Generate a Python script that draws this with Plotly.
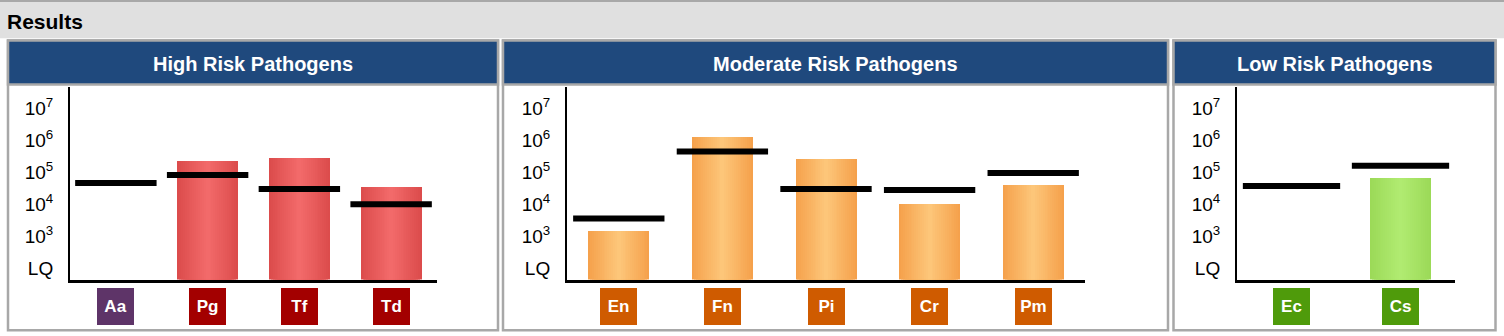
import plotly.graph_objects as go

# ---------------- data ----------------
high_cats = ["Aa", "Pg", "Tf", "Td"]
high_vals = [None, 2.25e5, 2.8e5, 3.5e4]
high_thresh = [4.6e4, 8.2e4, 3.0e4, 1.0e4]
high_label_colors = ["#5e3468", "#a30000", "#a30000", "#a30000"]

mod_cats = ["En", "Fn", "Pi", "Cr", "Pm"]
mod_vals = [1.5e3, 1.3e6, 2.6e5, 1.0e4, 4.0e4]
mod_thresh = [3.6e3, 4.5e5, 3.0e4, 2.8e4, 9.5e4]
mod_label_colors = ["#cf5b00"] * 5

low_cats = ["Ec", "Cs"]
low_vals = [None, 6.6e4]
low_thresh = [3.7e4, 1.6e5]
low_label_colors = ["#4f9b0b", "#4f9b0b"]

tick_vals = [1e2, 1e3, 1e4, 1e5, 1e6, 1e7]
tick_text = ["LQ", "10<sup>3</sup>", "10<sup>4</sup>", "10<sup>5</sup>", "10<sup>6</sup>", "10<sup>7</sup>"]

panel_titles = ["High Risk Pathogens", "Moderate Risk Pathogens", "Low Risk Pathogens"]

# ---------------- layout geometry (pixels) ----------------
W, H = 1504, 336
FONT = "Liberation Sans, Arial, sans-serif"


def X(px):
    return px / W


def Y(py):
    return 1 - py / H


PLOT_TOP, PLOT_BOTTOM = 87, 279.5
panels = [
    dict(cats=high_cats, vals=high_vals, thr=high_thresh, lab=high_label_colors,
         box=(8, 498), plot=(70, 437), edge="#db4b4b", center="#f36b6b", linelen=82),
    dict(cats=mod_cats, vals=mod_vals, thr=mod_thresh, lab=mod_label_colors,
         box=(503, 1168), plot=(567, 1085), edge="#f5a04a", center="#fdc77b", linelen=92),
    dict(cats=low_cats, vals=low_vals, thr=low_thresh, lab=low_label_colors,
         box=(1173.5, 1495.5), plot=(1237, 1455), edge="#9bd957", center="#b1ec72", linelen=98),
]


def hex2rgb(h):
    h = h.lstrip("#")
    return [int(h[i:i + 2], 16) for i in (0, 2, 4)]


def mix(c1, c2, t):
    a, b = hex2rgb(c1), hex2rgb(c2)
    return "rgb(%d,%d,%d)" % tuple(round(a[i] + (b[i] - a[i]) * t) for i in range(3))


fig = go.Figure()
shapes = []
annotations = []

# top band
shapes.append(dict(type="rect", xref="paper", yref="paper", x0=0, x1=1, y0=Y(38.3), y1=1,
                   fillcolor="#e0e0e0", line=dict(width=0), layer="below"))
shapes.append(dict(type="rect", xref="paper", yref="paper", x0=0, x1=1, y0=Y(2), y1=1,
                   fillcolor="#a8a8a8", line=dict(width=0), layer="below"))
annotations.append(dict(text="<b>Results</b>", xref="paper", yref="paper", x=X(5), y=Y(21),
                        xanchor="left", yanchor="middle", showarrow=False,
                        font=dict(family=FONT, size=21, color="black")))

N = 16
BAR_PX = 61
for i, p in enumerate(panels):
    xa = "x" if i == 0 else "x%d" % (i + 1)
    ya = "y" if i == 0 else "y%d" % (i + 1)
    n = len(p["cats"])
    spacing = (p["plot"][1] - p["plot"][0]) / n
    bw = BAR_PX / spacing
    bx0, bx1 = p["box"]

    # panel frame and header
    shapes.append(dict(type="rect", xref="paper", yref="paper", x0=X(bx0), x1=X(bx1),
                       y0=Y(330.2), y1=Y(40.5), fillcolor="white",
                       line=dict(color="#a8a8a8", width=2.5), layer="below"))
    shapes.append(dict(type="rect", xref="paper", yref="paper", x0=X(bx0), x1=X(bx1),
                       y0=Y(84.5), y1=Y(40.5), fillcolor="#1f497d",
                       line=dict(color="#a8a8a8", width=2.5), layer="below"))
    annotations.append(dict(text="<b>%s</b>" % panel_titles[i], xref="paper", yref="paper",
                            x=X((bx0 + bx1) / 2), y=Y(63.5), xanchor="center", yanchor="middle",
                            showarrow=False, font=dict(family=FONT, size=20, color="white")))

    # gradient bars: overlaid layers of decreasing width
    for k in range(N):
        frac = 1 - k / N
        d = 1 - (k + 0.5) / N
        fig.add_trace(go.Bar(x=p["cats"], y=p["vals"], width=bw * frac,
                             marker=dict(color=mix(p["center"], p["edge"], d), line=dict(width=0)),
                             xaxis=xa, yaxis=ya, showlegend=False, hoverinfo="skip"))

    # threshold lines (plotly's line-ew marker spans 1.41 x size)
    fig.add_trace(go.Scatter(x=p["cats"], y=p["thr"], mode="markers",
                             marker=dict(symbol="line-ew-open", size=p["linelen"] / 1.41, color="black",
                                         line=dict(width=6, color="black")),
                             xaxis=xa, yaxis=ya, showlegend=False, hoverinfo="skip", cliponaxis=False))

    # category label boxes
    for c, col in zip(p["cats"], p["lab"]):
        annotations.append(dict(text="<b>%s</b>" % c, xref=xa, yref="paper", x=c, y=Y(306.5),
                                xanchor="center", yanchor="middle", showarrow=False,
                                width=37, height=37, bgcolor=col, borderpad=0, borderwidth=0,
                                font=dict(family=FONT, size=17, color="white")))

    layout_x = dict(domain=[X(p["plot"][0]), X(p["plot"][1])], range=[-0.5, n - 0.5],
                    type="category", categoryorder="array", categoryarray=p["cats"],
                    showline=True, linecolor="black", linewidth=3, showticklabels=False,
                    ticks="", showgrid=False, zeroline=False, anchor=ya, fixedrange=True)
    layout_y = dict(domain=[Y(PLOT_BOTTOM), Y(PLOT_TOP)], type="log", range=[1.65, 7.666],
                    showline=True, linecolor="black", linewidth=2, tickvals=tick_vals,
                    ticktext=tick_text, ticks="", ticklabelstandoff=11, showgrid=False,
                    zeroline=False, anchor=xa, fixedrange=True,
                    tickfont=dict(family=FONT, size=19, color="black"))
    fig.update_layout(**{("xaxis" if i == 0 else "xaxis%d" % (i + 1)): layout_x,
                         ("yaxis" if i == 0 else "yaxis%d" % (i + 1)): layout_y})

fig.update_layout(width=W, height=H, margin=dict(l=0, r=0, t=0, b=0),
                  paper_bgcolor="white", plot_bgcolor="white", barmode="overlay",
                  bargap=0, showlegend=False, shapes=shapes, annotations=annotations)

fig.write_html("out.html", config={"displayModeBar": False})
